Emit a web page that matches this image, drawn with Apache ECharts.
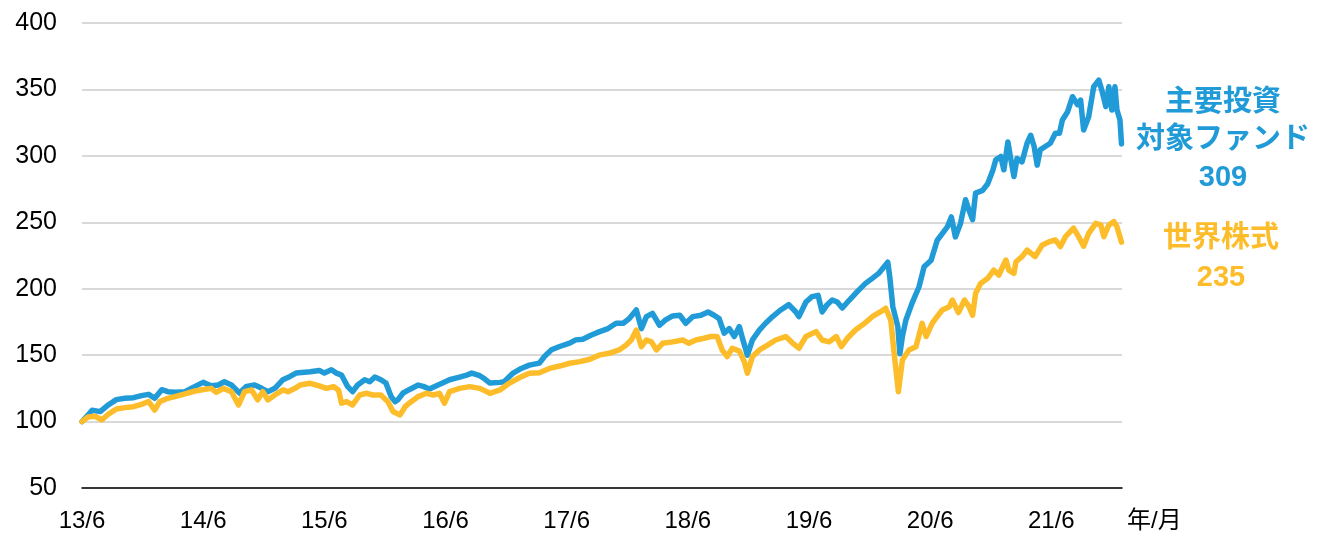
<!DOCTYPE html>
<html>
<head>
<meta charset="utf-8">
<script src="https://cdn.jsdelivr.net/npm/echarts@6/dist/echarts.min.js"></script>
<style>
  html, body { margin: 0; padding: 0; background: #fff; }
  #chart { width: 1318px; height: 535px; }
</style>
</head>
<body>
<div id="chart"></div>
<script>
// x = months since 2013/6, y = index (start = 100)
var fundSeries = [
  [0,100],[0.5,104],[1.0,108.5],[1.8,107.5],[2.6,112.5],[3.4,116.5],[4.25,117.5],[5.1,118],[5.9,119.5],[6.6,120.5],
  [7.2,117.5],[7.9,124],[8.5,122.5],[9.2,122],[10.2,122.5],[11.2,126.5],[12.0,129.5],[12.8,127],[13.5,127.5],[14.1,130],
  [14.8,127.5],[15.6,121.5],[16.3,126.5],[17.1,127.5],[17.8,125],[18.4,122.5],[19.1,125],[19.9,131.5],[20.6,134],[21.2,136.5],
  [22.6,137.5],[23.5,138.5],[24.0,136.5],[24.7,139],[25.2,136.5],[25.7,135],[26.3,126.5],[26.8,122.5],[27.3,127.5],[28.0,131.5],
  [28.5,130],[29.0,133.5],[29.6,131.5],[30.1,129],[30.6,119],[31.0,115],[31.3,116.5],[31.8,121.5],[32.4,124],[33.3,127.5],
  [33.8,126.5],[34.4,124.5],[35.1,127],[35.7,129],[36.4,131.5],[37.4,133.5],[38.1,135],[38.6,136.5],[39.4,134.5],[39.9,132],
  [40.4,129],[41.4,129.5],[41.8,130],[42.7,136.5],[43.5,140],[44.3,142.5],[45.3,144],[45.8,149],[46.5,154],[47.3,156.5],
  [48.3,159],[48.9,161.5],[49.6,162],[50.4,165],[51.2,167.5],[52.1,170],[52.9,174],[53.6,174],[54.2,177.5],[54.9,184],
  [55.4,170],[55.9,179],[56.5,181.5],[57.2,172.5],[57.8,176.5],[58.5,179.5],[59.2,180],[59.8,174],[60.5,179],[61.3,180],
  [62.0,182.5],[62.6,180],[63.1,177.5],[63.6,166.5],[64.1,170],[64.6,164],[65.1,171.5],[65.4,163],[65.9,150],[66.4,161.5],
  [67.1,169],[67.7,174],[68.4,179],[69.2,184],[70.0,188],[70.7,182.5],[71.0,179],[71.7,190],[72.3,194],[72.9,195],
  [73.3,182.5],[73.8,188],[74.3,191.5],[74.8,190],[75.3,185.5],[76.0,191.5],[76.8,198],[77.6,204],[78.3,208],[78.9,211.5],
  [79.6,218],[79.8,220],[80.0,209],[80.3,186.5],[80.8,171.5],[81.0,151],[81.25,164],[81.6,176.5],[82.2,189],[82.9,201.5],
  [83.4,216.5],[84.1,221.5],[84.7,236.5],[85.2,241.5],[85.7,246.5],[86.1,254],[86.5,239],[87.0,249],[87.5,267],[87.85,259],
  [88.2,252],[88.5,272],[89.2,274],[89.7,279],[90.2,289],[90.5,297],[91.0,299.5],[91.3,289.5],[91.7,310.5],[92.0,297],
  [92.3,284.5],[92.6,298],[93.1,295.5],[93.6,309.5],[93.96,315.5],[94.3,307],[94.6,293],[94.9,304.5],[95.4,307],[95.9,309.5],
  [96.4,317],[96.8,317],[97.1,327],[97.6,333],[98.1,344.5],[98.6,338.5],[98.9,342],[99.2,319.5],[99.7,329.5],[100.2,352],
  [100.7,357],[101.0,349.5],[101.4,337],[101.7,352],[102.0,334.5],[102.3,352],[102.5,334.5],[102.8,327],[102.95,309]
];

var worldSeries = [
  [0,100],[0.6,103.5],[1.3,104],[1.95,101.2],[2.6,105.5],[3.4,109.5],[4.25,110.5],[5.1,111.2],[5.7,112.5],[6.6,115],
  [7.2,108.7],[7.7,115],[8.5,117.5],[9.2,118.8],[10.2,120.8],[11.2,123],[12.2,124.3],[12.8,125],[13.3,122],[14.0,125],
  [14.8,122.5],[15.5,112.5],[16.1,122.5],[16.8,123.8],[17.4,116.3],[17.9,122.5],[18.4,116.3],[19.1,120],[19.9,123.8],[20.4,122.5],
  [21.1,125],[21.6,127.5],[22.6,128.8],[23.5,126.8],[24.2,125],[24.9,126.3],[25.4,123.8],[25.7,113.8],[26.2,115],[26.8,112.5],
  [27.5,120],[28.2,121.3],[28.8,120],[29.6,120],[30.3,115],[30.8,107.5],[31.5,105],[32.0,111.2],[32.6,115],[33.3,118.8],
  [34.1,121.3],[34.8,120],[35.4,121.3],[35.9,113.8],[36.4,122.5],[37.4,125],[38.4,126.3],[39.4,125],[40.4,121.3],[41.4,123.8],
  [42.3,128.8],[43.3,133],[44.3,136.4],[45.3,136.8],[46.3,140],[47.3,141.8],[48.3,143.9],[49.3,145.1],[50.3,146.9],[51.2,150],
  [52.2,151.4],[53.2,153.9],[53.9,157.6],[54.4,161.4],[54.9,168.9],[55.4,156.4],[55.9,161.4],[56.4,160],[56.9,153.9],[57.5,158.9],
  [58.5,160],[59.5,161.4],[60.1,158.9],[60.8,161.4],[61.6,162.7],[62.3,164],[62.9,164],[63.4,153.9],[63.9,148.9],[64.4,155.2],
  [65.1,153],[65.6,145],[65.9,136.4],[66.4,148.9],[67.1,153.9],[67.9,157.6],[68.7,161.4],[69.7,164],[70.4,158.9],[71.0,155.2],
  [71.7,164],[72.7,167.7],[73.3,161.4],[74.0,160],[74.7,164],[75.2,156.4],[75.8,162.7],[76.6,168.9],[77.5,173.9],[78.3,179.1],
  [79.1,182.7],[79.6,185.3],[80.1,176.4],[80.4,153.9],[80.85,122.5],[81.25,146.4],[81.9,153.9],[82.6,156.4],[83.2,173.9],[83.6,164],
  [84.2,173.9],[84.7,179.1],[85.2,184],[85.9,186.5],[86.2,191.5],[86.8,182],[87.4,191.5],[87.85,186.5],[88.2,180],[88.5,196.5],
  [89.0,204],[89.7,207.8],[90.3,214],[90.8,210.3],[91.5,221.6],[91.8,214],[92.3,211.6],[92.5,220.3],[93.1,224.1],[93.6,229.1],
  [94.4,224.1],[95.1,232.9],[95.8,235.4],[96.4,236.7],[96.9,231.7],[97.4,239.2],[98.2,245.5],[98.7,239.2],[99.2,232],[99.7,241.7],
  [100.4,249.2],[100.9,248],[101.2,239.2],[101.7,248],[102.2,250.5],[102.5,246.7],[102.95,235]
];

var fundName = ['主要投資', '対象ファンド'];
var worldName = ['世界株式'];
var startYear = 13;   // 13/6
var lastMonth = 103;  // 2022/1

var blue = '#219bd7';
var yellow = '#fdbd2a';

var fundLast = Math.round(fundSeries[fundSeries.length - 1][1]);
var worldLast = Math.round(worldSeries[worldSeries.length - 1][1]);

var myChart = echarts.init(document.getElementById('chart'));

myChart.setOption({
  animation: false,
  grid: {
    left: 82,
    right: 196,
    top: 23,
    bottom: 47,
    containLabel: false
  },
  xAxis: {
    type: 'value',
    min: 0,
    max: lastMonth,
    interval: 12,
    name: '年/月',
    nameLocation: 'end',
    nameGap: 5,
    nameTextStyle: {
      fontFamily: 'Liberation Sans, Noto Sans CJK JP',
      fontSize: 24,
      color: '#000',
      verticalAlign: 'top',
      padding: [21, 0, 0, 0]
    },
    axisLine: { lineStyle: { color: '#000', width: 1.5 } },
    axisTick: { show: false },
    splitLine: { show: false },
    axisLabel: {
      showMaxLabel: false,
      margin: 21,
      fontFamily: 'Liberation Sans',
      fontSize: 24,
      color: '#000',
      formatter: function (v) {
        return v % 12 === 0 ? (startYear + v / 12) + '/6' : '';
      }
    }
  },
  yAxis: {
    type: 'value',
    min: 50,
    max: 400,
    interval: 50,
    axisLine: { show: false },
    axisTick: { show: false },
    splitLine: { lineStyle: { color: '#d9d9d9', width: 2 } },
    axisLabel: {
      margin: 25,
      fontFamily: 'Liberation Sans, Arial',
      fontSize: 25,
      color: '#000'
    }
  },
  series: [
    {
      name: fundName.join(''),
      type: 'line',
      data: fundSeries,
      symbol: 'none',
      lineStyle: { color: blue, width: 5.5, join: 'round', cap: 'round' },
      z: 2
    },
    {
      name: worldName.join(''),
      type: 'line',
      data: worldSeries,
      symbol: 'none',
      lineStyle: { color: yellow, width: 5.5, join: 'round', cap: 'round' },
      z: 3
    }
  ],
  graphic: [
    {
      type: 'text',
      x: 1223,
      y: 84,
      style: {
        text: fundName.concat([String(fundLast)]).join('\n'),
        align: 'center',
        verticalAlign: 'top',
        lineHeight: 37.5,
        fill: blue,
        fontSize: 29,
        fontWeight: 'bold',
        fontFamily: 'Liberation Sans, Noto Sans CJK JP'
      }
    },
    {
      type: 'text',
      x: 1221,
      y: 220,
      style: {
        text: worldName.concat([String(worldLast)]).join('\n'),
        align: 'center',
        verticalAlign: 'top',
        lineHeight: 38.5,
        fill: yellow,
        fontSize: 29,
        fontWeight: 'bold',
        fontFamily: 'Liberation Sans, Noto Sans CJK JP'
      }
    }
  ]
});
</script>
</body>
</html>
